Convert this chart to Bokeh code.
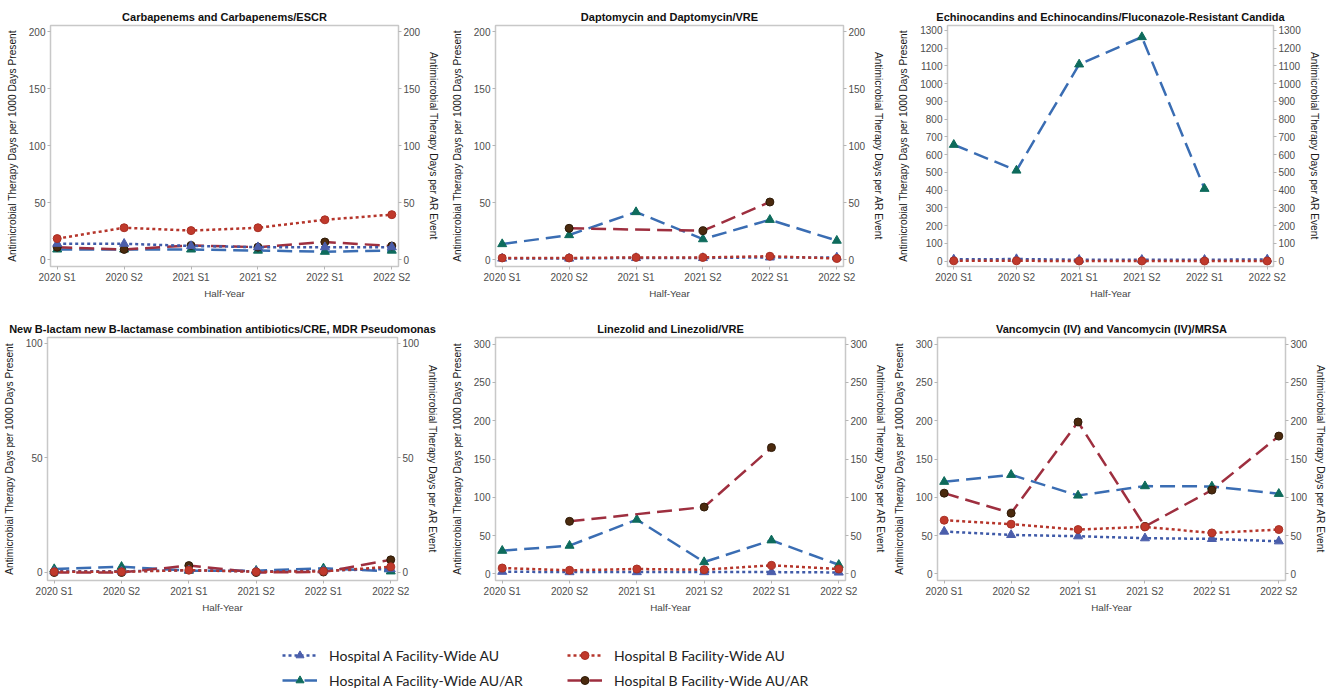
from bokeh.plotting import figure
from bokeh.models import Range1d, LinearAxis, FixedTicker, Legend, LegendItem
from bokeh.layouts import column, row
from bokeh.embed import file_html
from bokeh.resources import INLINE

half_years = ["2020 S1", "2020 S2", "2021 S1", "2021 S2", "2022 S1", "2022 S2"]

# Carbapenems and Carbapenems/ESCR
carb_a_au = [14, 14, 12, 11, 11, 11]
carb_b_au = [18.5, 28, 25.5, 28, 35, 39.5]
carb_a_auar = [9, 9, 9, 8, 7, 8]
carb_b_auar = [11, 9, 12.5, 11, 15.5, 12]

# Daptomycin and Daptomycin/VRE
dapto_a_au = [1, 1, 1.5, 1.5, 2, 2]
dapto_b_au = [1.5, 1.5, 2, 2, 3, 1]
dapto_a_auar = [13.7, 21.6, 41.8, 18, 35, 16.7]
dapto_b_auar = [None, 27.5, None, 25.4, 50.6, None]

# Echinocandins
echino_a_au = [10, 12, 8, 8, 8, 10]
echino_b_au = [2, 2, 1, 1, 1, 1]
echino_a_auar = [656, 511, 1109, 1263, 408, None]
echino_b_auar = [None, None, None, None, None, None]

# New B-lactam / B-lactamase
blbli_a_au = [0.5, 0.5, 1, 0.5, 0.8, 1.5]
blbli_b_au = [0.3, 0.3, 1, 0.3, 0.5, 2.5]
blbli_a_auar = [1.5, 2.5, 0.8, 0.8, 1.8, 0.5]
blbli_b_auar = [0, 0, 3, 0, 0.2, 5.5]

# Linezolid
lin_a_au = [3, 2.5, 2.5, 2.5, 2.5, 2]
lin_b_au = [7.8, 4.8, 6.5, 5.6, 11.3, 6.5]
lin_a_auar = [30.4, 37, 71, 15.6, 44, 12]
lin_b_auar = [None, 68.7, None, 87.4, 165, None]

# Vancomycin (IV)
vanc_a_au = [55.4, 51, 49.3, 46.7, 45.8, 42.7]
vanc_b_au = [70.2, 65, 58, 61.5, 53.6, 58]
vanc_a_auar = [120.4, 129.5, 102.5, 114.7, 114.3, 104.7]
vanc_b_auar = [105.5, 79.4, 198.4, 62, 109.5, 180]

series_labels = ["Hospital A Facility-Wide AU", "Hospital B Facility-Wide AU",
                 "Hospital A Facility-Wide AU/AR", "Hospital B Facility-Wide AU/AR"]

FONT = "Liberation Sans"
LEFT_LABEL = "Antimicrobial Therapy Days per 1000 Days Present"
RIGHT_LABEL = "Antimicrobial Therapy Days per AR Event"

STY = {
    "a_au": dict(line_color="#3f5aa8", line_dash="3 3", marker="triangle", mcolor="#4b5eab", mline="#4b5eab"),
    "b_au": dict(line_color="#b5352b", line_dash="3 3", marker="circle", mcolor="#c0392b", mline="#a83025"),
    "a_auar": dict(line_color="#3a6db3", line_dash="15 7", marker="triangle", mcolor="#0e6b5c", mline="#0e6b5c"),
    "b_auar": dict(line_color="#9e2f3f", line_dash="15 7", marker="circle", mcolor="#4b2a0e", mline="#2e1a08"),
}


def pts(vals):
    xs = [i for i, v in enumerate(vals) if v is not None]
    ys = [v for v in vals if v is not None]
    return xs, ys


def style_axis(ax):
    ax.axis_line_color = None
    ax.major_tick_line_color = "#b5b5b5"
    ax.major_tick_in = 0
    ax.major_tick_out = 3
    ax.minor_tick_line_color = None
    ax.major_label_text_font = FONT
    ax.major_label_text_font_size = "10px"
    ax.major_label_text_color = "#4d4d4d"
    ax.major_label_standoff = 2
    ax.axis_label_text_font = FONT
    ax.axis_label_text_font_size = "10.2px"
    ax.axis_label_text_font_style = "normal"
    ax.axis_label_text_color = "#1a1a1a"


def make_panel(title, a_au, b_au, a_auar, b_auar, ticks, yr, width, bl, br, bt, bb):
    p = figure(width=width, height=313, x_range=Range1d(-0.1, 5.1), y_range=Range1d(*yr),
               output_backend="svg", toolbar_location=None,
               min_border_left=bl, min_border_right=br, min_border_top=bt, min_border_bottom=bb)
    p.extra_y_ranges = {"ar": Range1d(*yr)}
    p.title.text = title
    p.title.align = "center"
    p.title.text_font = FONT
    p.title.text_font_size = "11px"
    p.title.text_font_style = "bold"
    p.title.text_color = "#111111"
    p.title.standoff = 6
    p.xgrid.visible = False
    p.ygrid.visible = False
    p.outline_line_color = "#c8c8c8"
    p.outline_line_width = 1.5
    p.background_fill_color = "white"

    p.xaxis.ticker = FixedTicker(ticks=list(range(len(half_years))))
    p.xaxis.major_label_overrides = {i: h for i, h in enumerate(half_years)}
    p.xaxis.axis_label = "Half-Year"
    p.xaxis.axis_label_standoff = 2
    p.yaxis.ticker = FixedTicker(ticks=ticks)
    p.yaxis.axis_label = LEFT_LABEL
    p.yaxis.axis_label_standoff = 8
    rax = LinearAxis(y_range_name="ar", axis_label=RIGHT_LABEL, ticker=FixedTicker(ticks=ticks))
    p.add_layout(rax, "right")
    for ax in [p.xaxis[0], p.yaxis[0], rax]:
        style_axis(ax)
    p.xaxis.axis_label_text_color = "#444444"
    p.xaxis.axis_label_text_font_size = "9.8px"
    rax.axis_label_standoff = 5

    for key, vals, rng in [("a_auar", a_auar, "ar"), ("b_auar", b_auar, "ar"),
                           ("a_au", a_au, "default"), ("b_au", b_au, "default")]:
        xs, ys = pts(vals)
        if not xs:
            continue
        s = STY[key]
        p.line(xs, ys, line_color=s["line_color"], line_dash=s["line_dash"], line_width=2.5,
               y_range_name=rng)
        p.scatter(xs, ys, marker=s["marker"], size=8 if s["marker"] == "circle" else 9,
                  fill_color=s["mcolor"], line_color=s["mline"], line_width=1, y_range_name=rng)
    return p


t200 = [0, 50, 100, 150, 200]
t1300 = list(range(0, 1301, 100))
t100 = [0, 50, 100]
t300 = [0, 50, 100, 150, 200, 250, 300]

p1 = make_panel("Carbapenems and Carbapenems/ESCR", carb_a_au, carb_b_au, carb_a_auar, carb_b_auar,
                t200, (-6, 205.5), 448, 50, 50, 25, 47)
p2 = make_panel("Daptomycin and Daptomycin/VRE", dapto_a_au, dapto_b_au, dapto_a_auar, dapto_b_auar,
                t200, (-6, 205.5), 442, 44, 47, 25, 47)
p3 = make_panel("Echinocandins and Echinocandins/Fluconazole-Resistant Candida", echino_a_au, echino_b_au,
                echino_a_auar, echino_b_auar, t1300, (-30, 1328), 443, 57, 60, 25, 47)
p4 = make_panel("New B-lactam new B-lactamase combination antibiotics/CRE, MDR Pseudomonas", blbli_a_au,
                blbli_b_au, blbli_a_auar, blbli_b_auar, t100, (-3.5, 102.5), 448, 46, 51, 24, 46)
p5 = make_panel("Linezolid and Linezolid/VRE", lin_a_au, lin_b_au, lin_a_auar, lin_b_auar,
                t300, (-8.5, 308.7), 442, 44, 45, 24, 46)
p6 = make_panel("Vancomycin (IV) and Vancomycin (IV)/MRSA", vanc_a_au, vanc_b_au, vanc_a_auar, vanc_b_auar,
                t300, (-8.5, 308.7), 443, 45, 48, 24, 46)

# Legend figure
lg = figure(width=1333, height=69, x_range=Range1d(0, 1), y_range=Range1d(0, 1),
            output_backend="svg", toolbar_location=None, min_border=0)
lg.axis.visible = False
lg.xgrid.visible = False
lg.ygrid.visible = False
lg.outline_line_color = None

items = []
for key, lab in zip(["a_au", "b_au", "a_auar", "b_auar"], series_labels):
    s = STY[key]
    lr = lg.line([-5, -4], [-5, -4], line_color=s["line_color"], line_dash=s["line_dash"], line_width=2.5)
    sr = lg.scatter([-5], [-5], marker=s["marker"], size=7, fill_color=s["mcolor"], line_color=s["mline"])
    items.append(LegendItem(label=lab, renderers=[lr, sr]))


def mk_legend(its, x):
    L = Legend(items=its, location=(x, 5), orientation="vertical")
    L.glyph_width = 35
    L.glyph_height = 20
    L.label_height = 20
    L.spacing = 5
    L.padding = 0
    L.margin = 0
    L.label_standoff = 12
    L.border_line_color = None
    L.background_fill_alpha = 0
    L.label_text_font = "Lato"
    L.label_text_font_size = "14px"
    L.label_text_color = "#222222"
    return L


lg.add_layout(mk_legend([items[0], items[2]], 282))
lg.add_layout(mk_legend([items[1], items[3]], 567))

layout = column(row(p1, p2, p3), row(p4, p5, p6), lg)
open("out.html", "w").write(file_html(layout, INLINE))
